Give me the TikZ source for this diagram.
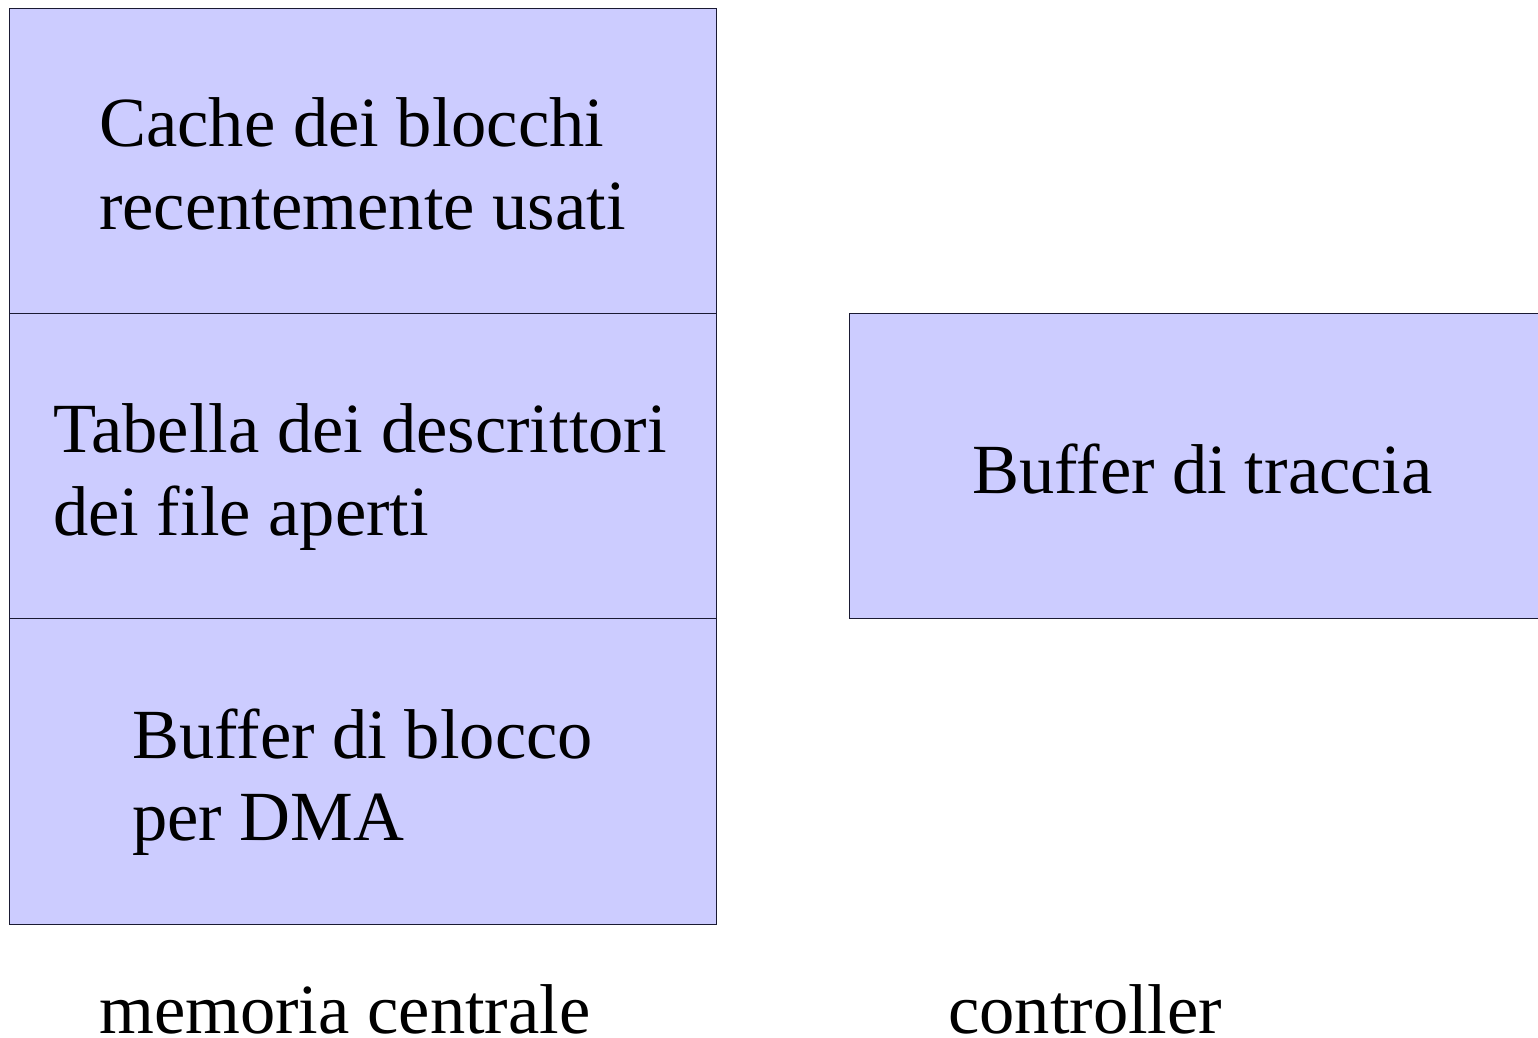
\documentclass[tikz,border=0pt]{standalone}
\usepackage{fontspec}
\setmainfont{Liberation Serif}
\definecolor{boxfill}{HTML}{CCCCFF}
\definecolor{boxline}{HTML}{1A1A33}
\begin{document}
\begin{tikzpicture}[x=1pt,y=-1pt,
  cell/.style={fill=boxfill,draw=boxline,line width=1pt},
  txt/.style={anchor=base west,inner sep=0pt,font=\fontsize{70.5}{84}\selectfont}]
\useasboundingbox (0,0) rectangle (1538,1037);
\draw[cell] (9,8) rectangle (716,313);
\draw[cell] (9,313) rectangle (716,618);
\draw[cell] (9,618) rectangle (716,924);
\draw[cell] (849,313) rectangle (1545,618);
\node[txt] (c1) at (99,146) {Cache dei blocchi};
\node[txt] (c2) at (99,229) {recentemente usati};
\node[txt] (t1) at (53,452) {Tabella dei descrittori};
\node[txt] (t2) at (53,535) {dei file aperti};
\node[txt] (b1) at (132,758) {Buffer di blocco};
\node[txt] (b2) at (132,840) {per DMA};
\node[txt] (bt) at (972,493) {Buffer di traccia};
\node[txt] (mc) at (99,1033) {memoria centrale};
\node[txt] (ct) at (948,1033) {controller};
\end{tikzpicture}
\end{document}
